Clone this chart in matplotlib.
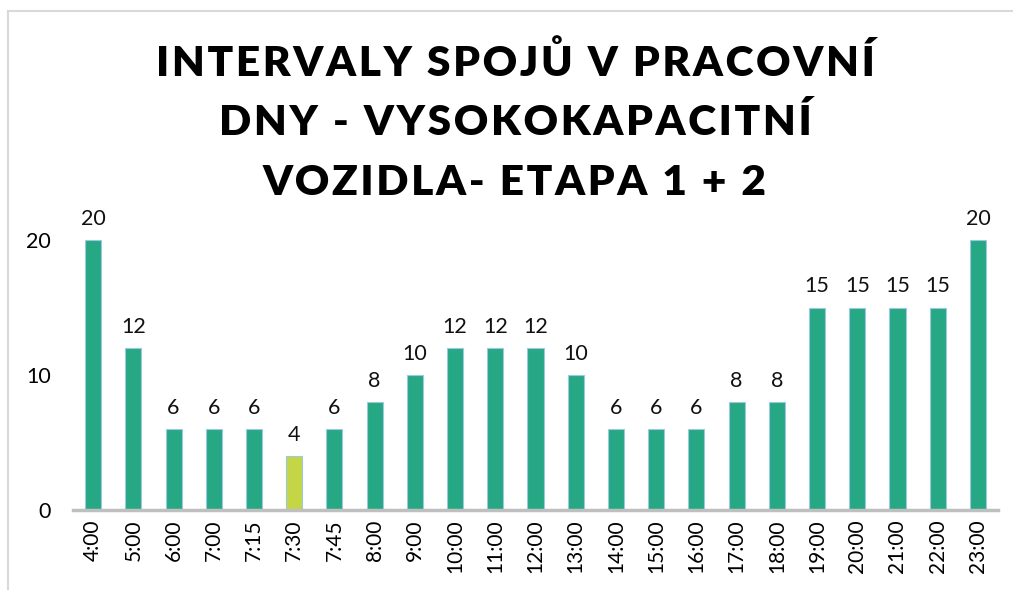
import matplotlib.pyplot as plt
from matplotlib.lines import Line2D

# ====== data ======
times = ["4:00", "5:00", "6:00", "7:00", "7:15", "7:30", "7:45", "8:00", "9:00",
         "10:00", "11:00", "12:00", "13:00", "14:00", "15:00", "16:00", "17:00",
         "18:00", "19:00", "20:00", "21:00", "22:00", "23:00"]
intervals = [20, 12, 6, 6, 6, 4, 6, 8, 10, 12, 12, 12, 10, 6, 6, 6, 8, 8,
             15, 15, 15, 15, 20]
highlight = "7:30"
yticks = [0, 10, 20]

title_lines = ["INTERVALY SPOJŮ V PRACOVNÍ", "DNY - VYSOKOKAPACITNÍ", "VOZIDLA- ETAPA 1 + 2"]

plt.rcParams["font.family"] = ["Lato", "DejaVu Sans"]

W, H = 1013, 590
fig = plt.figure(figsize=(W / 100, H / 100), dpi=100)
ax = fig.add_axes([73 / W, (H - 510) / H, (998 - 73) / W, (510 - 240) / H])

green = "#27A884"
yellow = "#C4D645"
colors = [yellow if t == highlight else green for t in times]
x = range(len(times))
ax.bar(x, intervals, width=0.4, color=colors, edgecolor="#9CC8E2", linewidth=0.8)

for xi, v in zip(x, intervals):
    ax.annotate(str(v), (xi, v), xytext=(0, 8), textcoords="offset points",
                ha="center", va="bottom", fontsize=15.5, color="#111111",
                annotation_clip=False)

ax.set_xlim(-0.5, len(times) - 0.5)
ax.set_ylim(0, 20)
ax.set_yticks(yticks)
ax.set_xticks(list(x))
ax.set_xticklabels(times, rotation=90, fontsize=15)
ax.tick_params(axis="y", length=0, pad=16, labelsize=15.5)
ax.tick_params(axis="x", length=0, pad=7)
for s in ["top", "right", "left"]:
    ax.spines[s].set_visible(False)
ax.spines["bottom"].set_color("#BFBFBF")
ax.spines["bottom"].set_linewidth(2.5)

# ====== title with letter spacing ======
sp = "\u200a"
for i, line in enumerate(title_lines):
    spaced = sp.join(line)
    fig.text(515 / W, 1 - (63 + i * 60) / H, spaced, ha="center", va="center",
             fontsize=30.5, fontweight="heavy", color="#000000")

# chart border
fig.add_artist(Line2D([8 / W, 1], [1 - 11 / H, 1 - 11 / H], color="#D9D9D9", lw=1.5))
fig.add_artist(Line2D([8 / W, 8 / W], [1 - 11 / H, 0], color="#D9D9D9", lw=1.5))

fig.savefig("out.png", dpi=100)
